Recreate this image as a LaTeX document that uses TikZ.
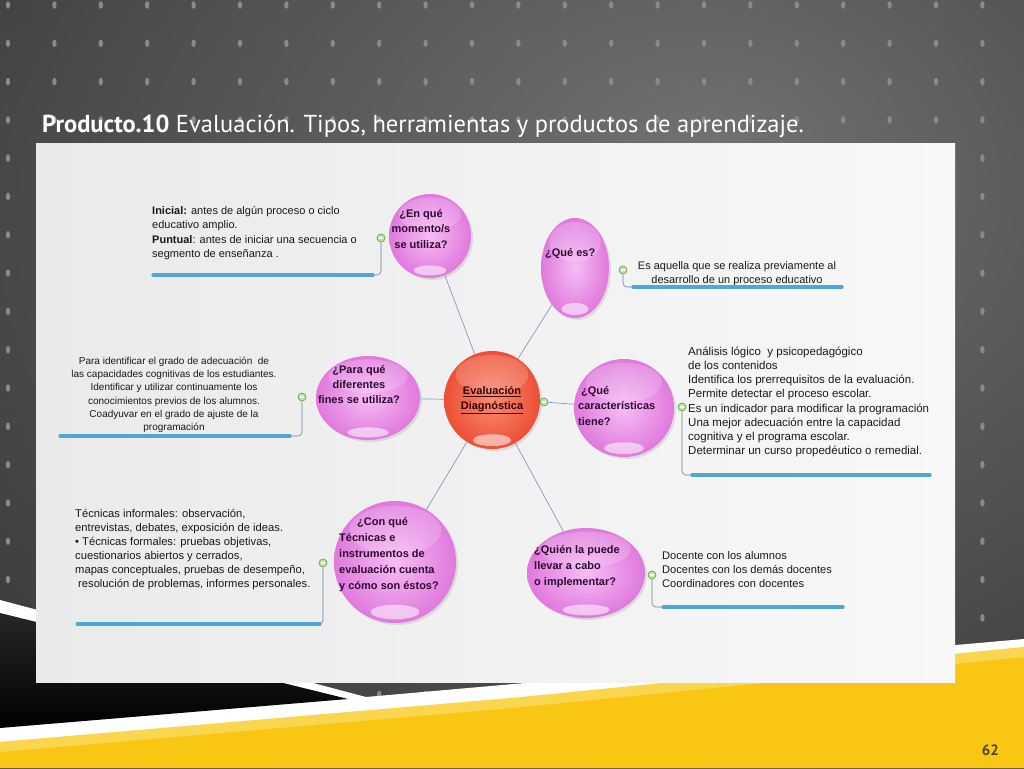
\documentclass[tikz,border=0pt]{standalone}
\usepackage{fontspec}
\setmainfont{Liberation Sans}
\newfontfamily\titulofont{PT Sans}
\usepackage{tikz}
\usetikzlibrary{shapes}
\usetikzlibrary{shadows}
\usetikzlibrary{calc}

\definecolor{fondo1}{HTML}{727272}
\definecolor{fondo2}{HTML}{363636}
\definecolor{punto}{HTML}{8A8A8A}
\definecolor{amarillo}{HTML}{F8C613}
\definecolor{amarilloclaro}{HTML}{FCE58A}
\definecolor{panel1}{HTML}{EAEAEA}
\definecolor{panel2}{HTML}{F8F8F8}
\definecolor{rosa1}{HTML}{F6BCF4}
\definecolor{rosa2}{HTML}{E079DD}
\definecolor{rojo1}{HTML}{FA8C72}
\definecolor{rojo2}{HTML}{EC4F35}
\definecolor{enlace}{HTML}{7F9DC4}
\definecolor{subraya}{HTML}{50A8D2}
\definecolor{verde1}{HTML}{BFE3A2}
\definecolor{verde2}{HTML}{5C9E38}
\definecolor{oscuro}{HTML}{2C0B30}
\definecolor{numero}{HTML}{4D4427}

\pgfdeclareradialshading{fondo}{\pgfpoint{10bp}{15bp}}{color(0bp)=(fondo1); color(45bp)=(fondo2); color(100bp)=(fondo2)}

\begin{document}
\begin{tikzpicture}[x=1pt,y=-1pt,
  burbuja/.style={ellipse,inner sep=0pt,inner color=rosa1,outer color=rosa2,
    drop shadow={shadow xshift=2pt,shadow yshift=-2pt,opacity=.2},
    path picture={
      \fill[white,opacity=.18] let \p1=($(path picture bounding box.north east)-(path picture bounding box.south west)$) in
        ([yshift=-0.24*\y1]path picture bounding box.north) ellipse [x radius=0.38*\x1,y radius=0.2*\y1];
      \fill[white,opacity=.55] let \p1=($(path picture bounding box.north east)-(path picture bounding box.south west)$) in
        ([yshift=0.09*\y1]path picture bounding box.south) ellipse [x radius=0.2*\x1,y radius=0.06*\y1];}},
  centro/.style={burbuja,inner color=rojo1,outer color=rojo2},
  pregunta/.style={inner sep=0pt,text=oscuro,font=\bfseries\fontsize{11}{15.5}\selectfont},
  caja/.style={inner sep=0pt,text=black!90,font=\fontsize{11}{14.5}\selectfont},
  enlace/.style={draw=enlace,line width=0.7pt},
  rama/.style={draw=enlace!80!black,line width=0.6pt,rounded corners=4pt},
  subrayado/.style={draw=subraya,line width=3.2pt,line cap=round},
  menos/.style={circle,draw=verde2,fill=verde1,line width=0.6pt,minimum size=8pt,inner sep=0pt,
    path picture={\draw[white,line width=1.2pt] ([xshift=-2.2pt]path picture bounding box.center) -- ([xshift=2.2pt]path picture bounding box.center);}}
  ]
\useasboundingbox (0,0) rectangle (1024,768);
% fondo de la diapositiva
\shade[shading=fondo] (0,0) rectangle (1024,768);
\foreach \i in {0,...,21}
  \foreach \j in {0,...,18}
    \fill[punto] (8+46.4*\i,5+38.3*\j) ellipse [x radius=2.2,y radius=3.8];
\fill[white] (0,600) -- (366,697) -- (1024,639) -- (1024,768) -- (0,768) -- cycle;
\shade[top color=black!85,bottom color=black] (0,613) -- (348,699) -- (0,728) -- cycle;
\fill[amarillo] (0,742) -- (512,698) -- (1024,647) -- (1024,768) -- (0,768) -- cycle;
\draw[amarilloclaro,line width=10pt,opacity=.5] (0,747) -- (512,703) -- (1024,652);
\shade[left color=panel1,right color=panel2] (36,143) rectangle (955,682);

% titulo y numero
\node[anchor=base west,inner sep=0pt,text=white,font=\titulofont\fontsize{24.5}{24.5}\selectfont] (titulo) at (42,132)
  {\textbf{Producto.10} Evaluación. Tipos, herramientas y productos de aprendizaje.};
\node[anchor=base east,inner sep=0pt,text=numero,font=\titulofont\bfseries\fontsize{15}{15}\selectfont] (pagina) at (999,755) {62};

% burbujas
\node[burbuja,minimum width=82,minimum height=84] (q1) at (430,236) {};
\node[burbuja,minimum width=68,minimum height=100] (q2) at (575,268) {};
\node[burbuja,minimum width=104,minimum height=84] (q3) at (368,398) {};
\node[centro,minimum width=96,minimum height=98] (c) at (492,400) {};
\node[burbuja,minimum width=100,minimum height=98] (q4) at (624,408) {};
\node[burbuja,minimum width=122,minimum height=122] (q5) at (395,562) {};
\node[burbuja,minimum width=118,minimum height=90] (q6) at (586,573) {};

% ramas del centro
\node[menos] (m0) at (544,402) {};
\draw[enlace] (c) -- (q1);
\draw[enlace] (c) -- (q2);
\draw[enlace] (c) -- (q3);
\draw[enlace] (m0) -- (q4);
\draw[enlace] (c) -- (q5);
\draw[enlace] (c) -- (q6);

% textos de las burbujas
\node[pregunta,align=center] (t1) at (421,229) {¿En qué\\momento/s\\se utiliza?};
\node[pregunta,anchor=west] (t2) at (545,254) {¿Qué es?};
\node[pregunta,align=center,font=\bfseries\fontsize{11}{15}\selectfont] (t3) at (359,385) {¿Para qué\\diferentes\\fines se utiliza?};
\node[pregunta,align=center,text=black!80!red,font=\bfseries\fontsize{11}{15}\selectfont] (tc) at (492,400) {\underline{Evaluación}\\\underline{Diagnóstica}};
\node[pregunta,align=left,anchor=west] (t4) at (578,406) {\hspace*{3pt}¿Qué\\características\\tiene?};
\node[pregunta,align=left,anchor=west,font=\bfseries\fontsize{11}{16}\selectfont] (t5) at (339,555) {\hspace*{18pt}¿Con qué\\Técnicas e\\instrumentos de\\evaluación cuenta\\y cómo son éstos?};
\node[pregunta,align=left,anchor=west,font=\bfseries\fontsize{11}{16}\selectfont] (t6) at (534,567) {¿Quién la puede\\llevar a cabo\\o implementar?};

% cajas de texto
\node[caja,anchor=north west,align=left] (a1) at (152,206)
  {\textbf{Inicial:} antes de algún proceso o ciclo\\educativo amplio.\\\textbf{Puntual}: antes de iniciar una secuencia o\\segmento de enseñanza .};
\node[caja,anchor=north,align=center,font=\fontsize{11}{14.5}\selectfont] (a2) at (737,261)
  {Es aquella que se realiza previamente al\\desarrollo de un proceso educativo};
\node[caja,anchor=north,align=center,font=\fontsize{10}{13.2}\selectfont] (a3) at (174,357)
  {Para identificar el grado de adecuación~ de\\las capacidades cognitivas de los estudiantes.\\Identificar y utilizar continuamente los\\conocimientos previos de los alumnos.\\Coadyuvar en el grado de ajuste de la\\programación};
\node[caja,anchor=north west,align=left,font=\fontsize{11.5}{14.1}\selectfont] (a4) at (688,347)
  {Análisis lógico~ y psicopedagógico\\de los contenidos\\Identifica los prerrequisitos de la evaluación.\\Permite detectar el proceso escolar.\\Es un indicador para modificar la programación\\Una mejor adecuación entre la capacidad\\cognitiva y el programa escolar.\\Determinar un curso propedéutico o remedial.};
\node[caja,anchor=north west,align=left,font=\fontsize{11.2}{14}\selectfont] (a5) at (75,509)
  {Técnicas informales: observación,\\entrevistas, debates, exposición de ideas.\\• Técnicas formales: pruebas objetivas,\\cuestionarios abiertos y cerrados,\\mapas conceptuales, pruebas de desempeño,\\\hspace*{3pt}resolución de problemas, informes personales.};
\node[caja,anchor=north west,align=left,font=\fontsize{11.1}{14}\selectfont] (a6) at (662,551)
  {Docente con los alumnos\\Docentes con los demás docentes\\Coordinadores con docentes};

% conectores de las cajas
\node[menos] (m1) at (381,238) {};
\node[menos] (m2) at (623,270) {};
\node[menos] (m3) at (302,397) {};
\node[menos] (m4) at (682,407) {};
\node[menos] (m5) at (323,563) {};
\node[menos] (m6) at (652,575) {};
\coordinate (u1a) at (373,275); \coordinate (u1b) at (153,275);
\coordinate (u2a) at (633,287); \coordinate (u2b) at (842,287);
\coordinate (u3a) at (290,436); \coordinate (u3b) at (60,436);
\coordinate (u4a) at (692,475); \coordinate (u4b) at (930,475);
\coordinate (u5a) at (320,624); \coordinate (u5b) at (77,624);
\coordinate (u6a) at (663,607); \coordinate (u6b) at (843,607);
\foreach \n in {1,...,6}{
  \draw[rama] (m\n.south) |- (u\n a);
  \draw[subrayado] (u\n a) -- (u\n b);
}
\end{tikzpicture}
\end{document}
